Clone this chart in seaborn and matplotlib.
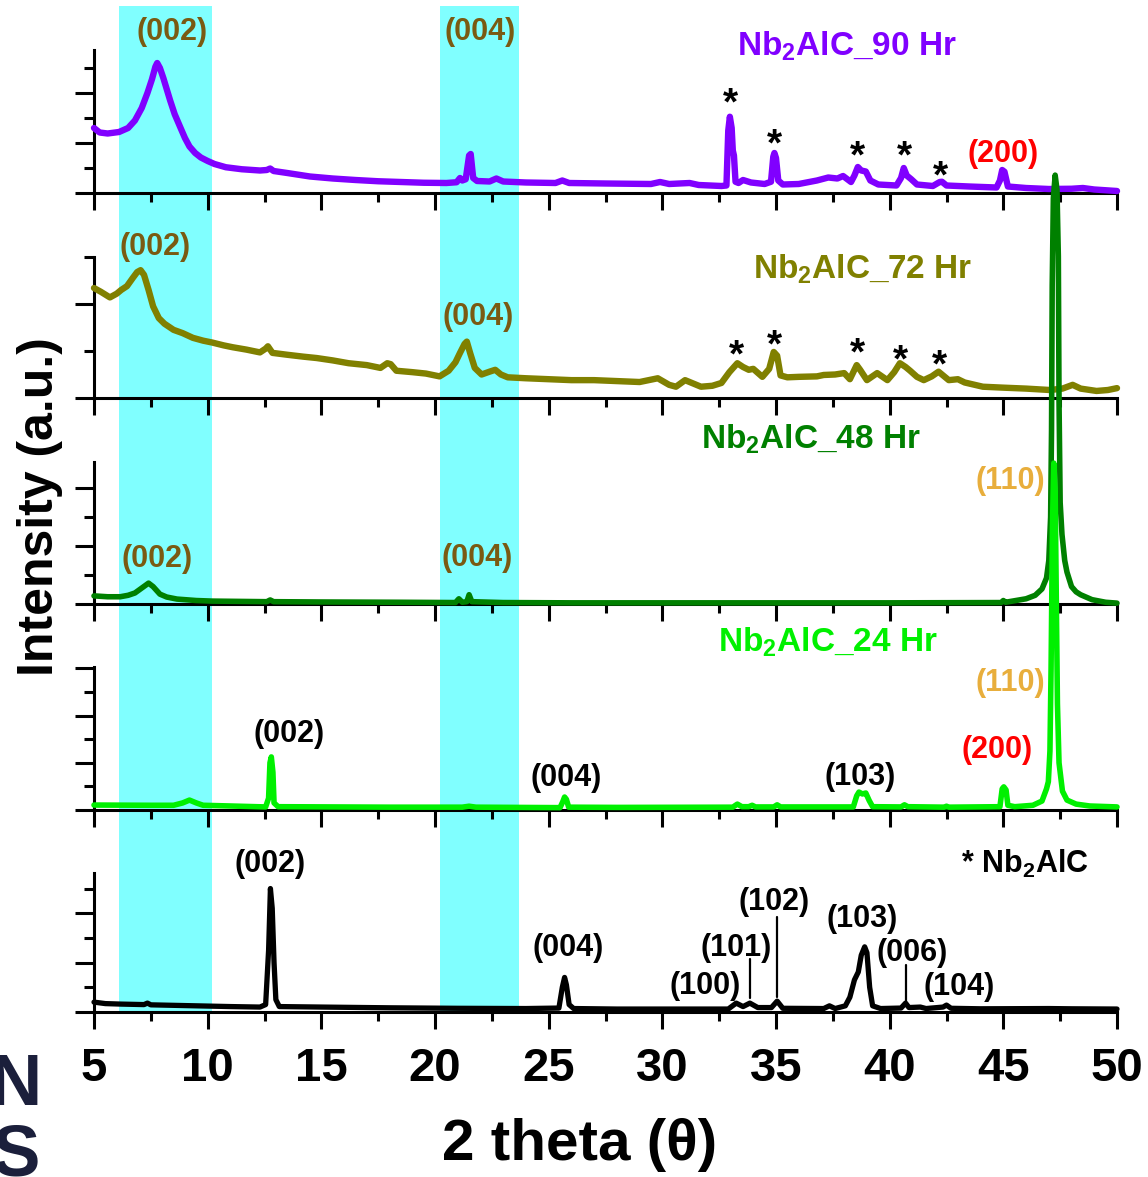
import numpy as np
import pandas as pd
import matplotlib
matplotlib.use("Agg")
import matplotlib.pyplot as plt
from matplotlib.ticker import MultipleLocator
import seaborn as sns

sns.set_style("ticks")
plt.rcParams['font.family'] = ['Liberation Sans', 'DejaVu Sans']
plt.rcParams['font.weight'] = 'bold'
plt.rcParams['mathtext.fontset'] = 'custom'
plt.rcParams['mathtext.rm'] = 'Liberation Sans:bold'
plt.rcParams['mathtext.bf'] = 'Liberation Sans:bold'
plt.rcParams['mathtext.it'] = 'Liberation Sans:bold'
plt.rcParams['axes.linewidth'] = 2.2
for k in ['text.color', 'axes.labelcolor', 'xtick.color', 'ytick.color', 'axes.edgecolor']:
    plt.rcParams[k] = 'black'

# ---------------- data ----------------
x_90 = [5.0, 5.25, 5.6, 6.1, 6.5, 6.8, 7.1, 7.35, 7.55, 7.7, 7.78, 7.9, 8.05, 8.2, 8.35, 8.55, 8.8, 9.0,
        9.2, 9.45, 9.7, 10.0, 10.3, 10.8, 11.5, 12.3, 12.6, 12.75, 12.9, 13.5, 14.5, 15.5, 16.5, 17.5,
        18.5, 19.5, 20.5, 20.95, 21.1, 21.2, 21.35, 21.5, 21.57, 21.68, 21.85, 22.4, 22.7, 23.0, 24.0,
        25.3, 25.6, 25.9, 27.5, 29.5, 29.9, 30.3, 31.2, 31.6, 32.6, 32.82, 32.9, 32.97, 33.05, 33.1,
        33.15, 33.22, 33.35, 33.55, 33.9, 34.5, 34.78, 34.88, 34.93, 35.0, 35.1, 35.3, 36.0, 36.8, 37.3,
        37.7, 37.95, 38.3, 38.45, 38.6, 38.75, 38.95, 39.15, 39.5, 40.3, 40.5, 40.62, 40.75, 40.95, 41.2,
        41.9, 42.2, 42.3, 42.5, 43.5, 44.7, 44.85, 44.95, 45.05, 45.2, 46.0, 47.0, 48.0, 48.5, 49.0, 50.0]
y_90 = [2.6, 2.42, 2.38, 2.44, 2.6, 2.9, 3.4, 4.0, 4.55, 5.05, 5.2, 5.0, 4.6, 4.15, 3.7, 3.15, 2.62, 2.2,
        1.86, 1.6, 1.42, 1.28, 1.16, 1.03, 0.95, 0.9, 0.92, 0.98, 0.88, 0.8, 0.66, 0.58, 0.52, 0.47,
        0.44, 0.41, 0.4, 0.43, 0.6, 0.5, 0.55, 1.5, 1.56, 0.6, 0.48, 0.46, 0.58, 0.46, 0.42,
        0.4, 0.5, 0.4, 0.38, 0.36, 0.44, 0.36, 0.4, 0.32, 0.28, 0.3, 2.5, 3.05, 2.6, 1.7,
        1.5, 0.45, 0.4, 0.52, 0.42, 0.36, 0.45, 1.45, 1.6, 1.4, 0.5, 0.34, 0.36, 0.5, 0.62,
        0.58, 0.68, 0.44, 0.7, 1.04, 0.9, 0.86, 0.5, 0.34, 0.3, 0.6, 1.0, 0.7, 0.55, 0.34,
        0.28, 0.44, 0.45, 0.3, 0.26, 0.22, 0.5, 0.92, 0.85, 0.26, 0.2, 0.16, 0.17, 0.2, 0.14, 0.08]

x_72 = [5.0, 5.3, 5.7, 6.0, 6.2, 6.45, 6.7, 6.9, 7.05, 7.2, 7.4, 7.6, 7.85, 8.1, 8.5, 8.9, 9.35, 9.8,
        10.2, 10.7, 11.1, 11.7, 12.3, 12.55, 12.65, 12.85, 13.5, 14.2, 14.8, 15.5, 16.2, 17.0, 17.6,
        17.9, 18.05, 18.3, 19.0, 19.6, 20.2, 20.6, 20.9, 21.1, 21.3, 21.4, 21.55, 21.75, 22.05, 22.4,
        22.65, 22.9, 23.2, 24.0, 25.0, 26.0, 27.0, 28.0, 29.0, 29.8, 30.3, 30.6, 31.0, 31.3, 31.7,
        32.2, 32.6, 32.95, 33.3, 33.55, 33.8, 34.0, 34.4, 34.7, 34.9, 35.05, 35.2, 35.5, 36.0, 36.8,
        37.1, 37.6, 38.0, 38.25, 38.55, 38.7, 39.0, 39.45, 39.9, 40.2, 40.45, 40.7, 40.9, 41.2, 41.5,
        41.85, 42.15, 42.35, 42.6, 43.0, 43.3, 44.1, 45.0, 46.0, 47.05, 47.6, 48.05, 48.4, 49.1, 49.6, 50.0]
y_72 = [2.34, 2.26, 2.14, 2.22, 2.3, 2.38, 2.55, 2.68, 2.72, 2.62, 2.3, 1.95, 1.7, 1.58, 1.45, 1.38, 1.28, 1.22,
        1.18, 1.12, 1.08, 1.03, 0.97, 1.05, 1.1, 0.96, 0.92, 0.88, 0.85, 0.8, 0.74, 0.7, 0.64,
        0.74, 0.72, 0.58, 0.55, 0.52, 0.46, 0.58, 0.76, 0.96, 1.15, 1.2, 0.95, 0.64, 0.5, 0.56,
        0.6, 0.5, 0.44, 0.42, 0.4, 0.38, 0.38, 0.36, 0.34, 0.42, 0.28, 0.24, 0.38, 0.32, 0.24,
        0.26, 0.32, 0.55, 0.74, 0.66, 0.6, 0.62, 0.45, 0.62, 0.98, 0.9, 0.48, 0.44, 0.45, 0.46,
        0.49, 0.5, 0.53, 0.4, 0.7, 0.6, 0.38, 0.53, 0.38, 0.55, 0.74, 0.66, 0.58, 0.45, 0.38,
        0.46, 0.56, 0.48, 0.38, 0.4, 0.33, 0.24, 0.22, 0.2, 0.17, 0.2, 0.28, 0.2, 0.15, 0.17, 0.21]

x_48 = [5.0, 5.6, 6.15, 6.5, 6.8, 7.1, 7.4, 7.6, 7.9, 8.2, 8.65, 9.5, 10.2, 12.6, 12.75, 12.9, 15.0,
        18.5, 20.9, 21.05, 21.2, 21.4, 21.5, 21.62, 23.0, 26.0, 30.0, 35.0, 40.0, 44.9, 45.0, 45.1,
        46.0, 46.4, 46.7, 46.9, 47.0, 47.08, 47.12, 47.15, 47.2, 47.28, 47.36, 47.42, 47.45, 47.5,
        47.58, 47.7, 47.8, 48.0, 48.2, 48.4, 48.9, 49.5, 50.0]
y_48 = [0.28, 0.25, 0.25, 0.3, 0.38, 0.55, 0.72, 0.6, 0.34, 0.24, 0.17, 0.12, 0.1, 0.08, 0.14, 0.08, 0.07,
        0.06, 0.05, 0.18, 0.06, 0.08, 0.32, 0.08, 0.05, 0.04, 0.04, 0.04, 0.04, 0.05, 0.12, 0.06,
        0.18, 0.3, 0.52, 0.9, 1.5, 3.0, 6.0, 11.0, 14.0, 14.8, 14.3, 12.0, 7.0, 3.5,
        2.4, 1.5, 1.1, 0.6, 0.42, 0.32, 0.15, 0.06, 0.03]

x_24 = [5.0, 7.5, 8.5, 8.9, 9.2, 9.5, 9.8, 11.0, 12.55, 12.68, 12.74, 12.8, 12.87, 12.92, 13.1, 18.0,
        21.2, 21.5, 21.8, 25.5, 25.62, 25.7, 25.78, 25.88, 28.0, 33.1, 33.3, 33.5, 33.8, 33.95, 34.1,
        34.9, 35.05, 35.2, 38.4, 38.55, 38.65, 38.8, 38.95, 39.1, 39.25, 40.5, 40.65, 40.8, 42.4, 42.5,
        42.6, 44.85, 44.95, 45.02, 45.12, 45.2, 45.5, 46.3, 46.7, 46.9, 46.98, 47.05, 47.1, 47.16,
        47.22, 47.28, 47.33, 47.38, 47.45, 47.6, 47.8, 48.2, 48.8, 50.0]
y_24 = [0.21, 0.2, 0.2, 0.3, 0.42, 0.3, 0.2, 0.17, 0.13, 0.5, 2.0, 2.25, 1.6, 0.3, 0.14, 0.12,
        0.12, 0.16, 0.12, 0.1, 0.35, 0.55, 0.45, 0.12, 0.11, 0.12, 0.25, 0.14, 0.14, 0.2, 0.13,
        0.13, 0.22, 0.13, 0.13, 0.6, 0.76, 0.68, 0.72, 0.4, 0.14, 0.13, 0.22, 0.14, 0.12, 0.16,
        0.12, 0.14, 0.9, 0.98, 0.85, 0.2, 0.14, 0.2, 0.38, 0.9, 1.2, 2.5, 6.0, 12.0,
        14.7, 13.5, 9.0, 4.5, 2.0, 0.8, 0.42, 0.25, 0.17, 0.13]

x_bulk = [5.0, 5.5, 6.2, 7.2, 7.35, 7.5, 9.0, 11.0, 12.3, 12.55, 12.68, 12.76, 12.84, 12.92, 13.0, 13.15,
          15.0, 18.0, 21.0, 24.0, 25.45, 25.6, 25.7, 25.78, 25.9, 26.1, 28.0, 32.9, 33.25, 33.55, 33.85,
          34.2, 34.8, 35.05, 35.3, 37.1, 37.35, 37.6, 38.05, 38.25, 38.45, 38.62, 38.75, 38.9, 39.0,
          39.12, 39.25, 39.6, 40.5, 40.7, 40.85, 41.35, 41.6, 42.35, 42.5, 42.7, 44.0, 47.0, 48.0, 50.0]
y_bulk = [0.4, 0.34, 0.32, 0.3, 0.36, 0.29, 0.26, 0.22, 0.2, 0.3, 2.5, 5.0, 4.2, 2.0, 0.5, 0.22,
          0.2, 0.17, 0.15, 0.14, 0.16, 1.0, 1.4, 1.1, 0.3, 0.14, 0.12, 0.12, 0.36, 0.22, 0.36,
          0.18, 0.18, 0.44, 0.15, 0.14, 0.25, 0.14, 0.25, 0.6, 1.3, 1.62, 2.3, 2.64, 2.4,
          1.0, 0.25, 0.14, 0.16, 0.36, 0.18, 0.2, 0.14, 0.2, 0.28, 0.15, 0.13, 0.14, 0.13, 0.12]

series_names = ["Nb$_\\mathbf{2}$AlC_90 Hr", "Nb$_\\mathbf{2}$AlC_72 Hr", "Nb$_\\mathbf{2}$AlC_48 Hr",
                "Nb$_\\mathbf{2}$AlC_24 Hr", "bulk"]
series_x = [x_90, x_72, x_48, x_24, x_bulk]
series_y = [y_90, y_72, y_48, y_24, y_bulk]
series_colors = ["#8000FF", "#808000", "#008000", "#00F000", "#000000"]
series_lw = [4.6, 4.6, 4.0, 4.0, 3.8]

# panel extents (pixel rows of spine top / baseline) and y-limit in minor-tick units
panel_top_px = [50, 257, 462, 667, 873]
panel_bot_px = [193, 398, 604, 810, 1012]
panel_ymax = [5.72, 3.0, 4.9, 6.06, 5.63]

bands = [(6.1, 10.2), (20.2, 23.7)]

# annotations: (panel, x, y, text, color, size)
BROWN = "#7A5A12"
ORANGE = "#E8AE3C"
RED = "#FF0000"
labels = [
    (0, 8.43, 6.45, "(002)", BROWN, 22), (0, 21.98, 6.45, "(004)", BROWN, 22),
    (0, 38.13, 5.88, series_names[0], "#8000FF", 24), (0, 44.99, 1.55, "(200)", RED, 22),
    (1, 7.68, 3.22, "(002)", BROWN, 22), (1, 21.89, 1.73, "(004)", BROWN, 22),
    (1, 38.79, 2.74, series_names[1], "#808000", 24),
    (2, 7.77, 1.55, "(002)", BROWN, 22), (2, 21.85, 1.58, "(004)", BROWN, 22),
    (2, 36.54, 5.68, series_names[2], "#008000", 24), (2, 45.3, 4.24, "(110)", ORANGE, 22),
    (3, 13.58, 3.22, "(002)", "black", 22), (3, 25.77, 1.36, "(004)", "black", 22),
    (3, 38.7, 1.4, "(103)", "black", 22), (3, 44.73, 2.55, "(200)", RED, 22),
    (3, 45.3, 5.4, "(110)", ORANGE, 22), (3, 37.29, 7.1, series_names[3], "#00F000", 24),
    (4, 12.74, 6.0, "(002)", "black", 22), (4, 25.85, 2.6, "(004)", "black", 22),
    (4, 31.88, 1.06, "(100)", "black", 22), (4, 33.24, 2.6, "(101)", "black", 22),
    (4, 34.92, 4.46, "(102)", "black", 22), (4, 38.79, 3.78, "(103)", "black", 22),
    (4, 40.99, 2.4, "(006)", "black", 22), (4, 43.06, 1.02, "(104)", "black", 22),
    (4, 45.96, 6.0, "* Nb$_\\mathbf{2}$AlC", "black", 22),
]
stars = [
    (0, 32.98, 3.54), (0, 34.92, 1.9), (0, 38.57, 1.42), (0, 40.64, 1.42), (0, 42.22, 0.62),
    (1, 33.24, 0.88), (1, 34.92, 1.09), (1, 38.57, 0.92), (1, 40.46, 0.77), (1, 42.18, 0.68),
]
# marker lines in bulk panel: (x, y0, y1)
marker_lines = [(33.85, 0.57, 2.15), (35.03, 0.6, 3.85), (40.73, 0.36, 1.9)]

# ---------------- figure ----------------
W, H = 1148, 1177
fig = plt.figure(figsize=(W / 100, H / 100), dpi=100)
left = 94 / W
width = (1117 - 94) / W

# background axes for the cyan bands
bg = fig.add_axes([left, 1 - 1012 / H, width, (1012 - 6) / H], zorder=0)
bg.set_xlim(5, 50)
bg.set_ylim(0, 1)
for a, b in bands:
    bg.axvspan(a, b, color="#80FFFF", lw=0)
bg.axis("off")

axes = []
for i in range(5):
    t, b = panel_top_px[i], panel_bot_px[i]
    ax = fig.add_axes([left, 1 - b / H, width, (b - t) / H], zorder=i + 1)
    ax.patch.set_alpha(0)
    df = pd.DataFrame({"two_theta": series_x[i], "intensity": series_y[i]})
    sns.lineplot(data=df, x="two_theta", y="intensity", ax=ax, color=series_colors[i],
                 lw=series_lw[i], sort=False, estimator=None, clip_on=False, zorder=3)
    ax.set_xlim(5, 50)
    ax.set_ylim(0, panel_ymax[i])
    ax.set_xlabel("")
    ax.set_ylabel("")
    sns.despine(ax=ax)
    ax.xaxis.set_major_locator(MultipleLocator(5))
    ax.xaxis.set_minor_locator(MultipleLocator(2.5))
    ax.yaxis.set_major_locator(MultipleLocator(2))
    ax.yaxis.set_minor_locator(MultipleLocator(1))
    ax.tick_params(axis="x", which="major", direction="out", length=12.2, width=2.2, pad=13,
                   labelsize=34, labelbottom=(i == 4), colors="black")
    ax.tick_params(axis="x", which="minor", direction="out", length=6.5, width=2.2, colors="black")
    ax.tick_params(axis="y", which="major", direction="out", length=13.7, width=2.2,
                   labelleft=False, colors="black")
    ax.tick_params(axis="y", which="minor", direction="out", length=7.2, width=2.2, colors="black")
    for sp in ax.spines.values():
        sp.set_color("black")
    for lab in ax.get_xticklabels():
        lab.set_fontweight("bold")
    axes.append(ax)

for p, x, y, s, c, fs in labels:
    axes[p].text(x, y, s, color=c, fontsize=fs, fontweight="bold", ha="center", va="center",
                 zorder=6)
for p, x, y in stars:
    axes[p].text(x, y, "*", color="black", fontsize=28, fontweight="bold", ha="center",
                 va="center", zorder=6)
for x, y0, y1 in marker_lines:
    axes[4].plot([x, x], [y0, y1], color="black", lw=1.6, zorder=4)

fig.text(580 / W, 1 - 1145 / H, "2 theta (\u03b8)", fontsize=42, fontweight="bold",
         ha="center", va="center", color="black")
fig.text(40 / W, 1 - 507 / H, "Intensity (a.u.)", fontsize=36, fontweight="bold",
         ha="center", va="center", rotation=90, color="black")

# partially visible logo letters at the lower left
fig.text(41 / W, 1 - 1176 / H, "N\nRS", fontsize=52, fontweight="heavy", color="#1B1F3B",
         ha="right", va="baseline", multialignment="right", linespacing=1.05)

fig.savefig("out.png", dpi=100)
